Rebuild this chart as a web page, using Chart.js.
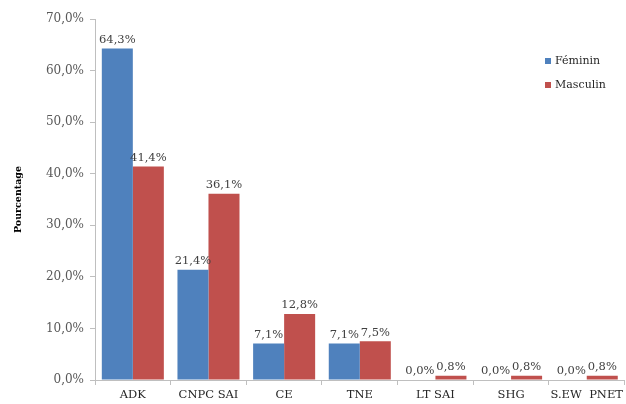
<!DOCTYPE html>
<html>
<head>
<meta charset="utf-8">
<script src="https://cdn.jsdelivr.net/npm/chart.js@4"></script>
<style>
  html, body { margin: 0; padding: 0; background: #fff; }
  #wrap { width: 626px; height: 404px; }
</style>
</head>
<body>
<div id="wrap"><canvas id="chart"></canvas></div>
<script>
let categories = ["ADK", "CNPC SAI", "CE", "TNE", "LT SAI", "SHG", "S.EW  PNET"];
let feminin = [64.3, 21.4, 7.1, 7.1, 0.0, 0.0, 0.0];
let masculin = [41.4, 36.1, 12.8, 7.5, 0.8, 0.8, 0.8];
let seriesNames = ["Féminin", "Masculin"];
let seriesColors = ["#4F81BD", "#C0504D"];

let serif = "'DejaVu Serif', serif";

function fmt(v) {
    return v.toFixed(1).replace('.', ',') + '%';
}

// value labels above bars
let valueLabels = {
    id: 'valueLabels',
    afterDatasetsDraw(chart) {
        let ctx = chart.ctx;
        ctx.save();
        ctx.font = '11.5px ' + serif;
        ctx.fillStyle = '#404040';
        ctx.textAlign = 'center';
        ctx.textBaseline = 'bottom';
        chart.data.datasets.forEach((ds, i) => {
            chart.getDatasetMeta(i).data.forEach((bar, j) => {
                ctx.fillText(fmt(ds.data[j]), bar.x, bar.y - 3);
            });
        });
        ctx.restore();
    }
};

// legend inside the plot, top right
let innerLegend = {
    id: 'innerLegend',
    afterDraw(chart) {
        let ctx = chart.ctx;
        ctx.save();
        ctx.font = '11px ' + serif;
        ctx.textBaseline = 'middle';
        chart.data.datasets.forEach((ds, i) => {
            let y = 61 + i * 24;
            ctx.fillStyle = ds.backgroundColor;
            ctx.fillRect(545, y - 3, 6, 6);
            ctx.fillStyle = '#262626';
            ctx.fillText(ds.label, 555, y);
        });
        ctx.restore();
    }
};

new Chart(document.getElementById('chart').getContext('2d'), {
    type: 'bar',
    data: {
        labels: categories,
        datasets: [
            { label: seriesNames[0], data: feminin, backgroundColor: seriesColors[0] },
            { label: seriesNames[1], data: masculin, backgroundColor: seriesColors[1] }
        ]
    },
    options: {
        responsive: true,
        maintainAspectRatio: false,
        animation: false,
        layout: { padding: { top: 19, right: 0, left: 13, bottom: 2 } },
        datasets: { bar: { categoryPercentage: 0.82, barPercentage: 1.0 } },
        plugins: {
            legend: { display: false },
            tooltip: { enabled: false }
        },
        scales: {
            x: {
                grid: { display: true, drawOnChartArea: false, drawTicks: true, tickLength: 5, color: '#BFBFBF' },
                border: { color: '#BFBFBF' },
                ticks: {
                    color: '#262626',
                    font: { family: serif, size: 11.5 },
                    padding: 3,
                    maxRotation: 0,
                    minRotation: 0,
                    autoSkip: false
                },
                afterFit(axis) { axis.height = 22; }
            },
            y: {
                min: 0,
                max: 70,
                grid: { display: true, drawOnChartArea: false, drawTicks: true, tickLength: 5, color: '#BFBFBF' },
                border: { color: '#BFBFBF' },
                ticks: {
                    stepSize: 10,
                    color: '#595959',
                    padding: 6,
                    font: { family: serif, size: 12 },
                    callback: v => fmt(v)
                },
                title: {
                    display: true,
                    text: 'Pourcentage',
                    color: '#000',
                    font: { family: serif, size: 9.5, weight: 'bold' },
                    padding: { top: 0, bottom: 12 }
                },
                afterFit(axis) { axis.width = 82; }
            }
        }
    },
    plugins: [valueLabels, innerLegend]
});
</script>
</body>
</html>
